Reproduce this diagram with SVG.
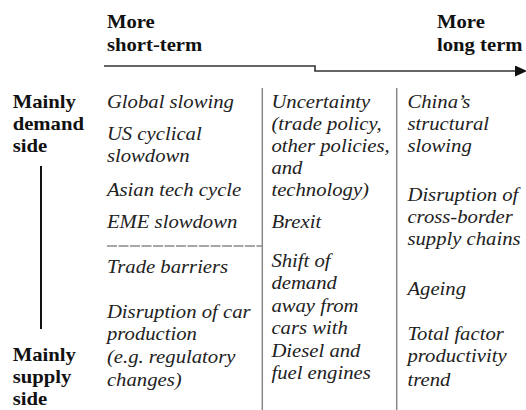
<svg xmlns="http://www.w3.org/2000/svg" width="526" height="410" viewBox="0 0 526 410">
  <style>
    .hdr { font-weight: bold; font-size: 18px; fill: #111; }
    .itm { font-style: italic; font-size: 18px; fill: #222; }
    .div { stroke: #8a8a8a; stroke-width: 1.5; fill: none; }
    .conn { stroke: #333; stroke-width: 1.6; fill: none; }
  </style>
  <defs>
    <marker id="arrow" markerUnits="userSpaceOnUse" markerWidth="12" markerHeight="11" viewBox="0 0 12 11" refX="0" refY="5.5" orient="auto">
      <path d="M0,0 L12,5.5 L0,11 Z" fill="#111"/>
    </marker>
  </defs>
  <rect width="526" height="410" fill="#fff"/>

  <g id="grid">
    <line class="div" x1="262.3" y1="88" x2="262.3" y2="410"/>
    <line class="div" x1="396.7" y1="88" x2="396.7" y2="410"/>
    <line class="div" x1="107" y1="246" x2="262" y2="246" stroke-dasharray="10 1.5"/>
  </g>

  <g id="connectors">
    <path class="conn" d="M104,66 H315 V71 H515" marker-end="url(#arrow)"/>
    <line x1="41" y1="166" x2="41" y2="329" stroke="#111" stroke-width="2"/>
  </g>

  <g transform="scale(1.15 1)" font-family="Liberation Serif, Tinos, Noto Serif, FreeSerif, DejaVu Serif, serif">
    <g id="header-short">
      <text class="hdr" x="93" y="28">More</text>
      <text class="hdr" x="93" y="51">short-term</text>
    </g>
    <g id="header-long">
      <text class="hdr" x="380" y="28">More</text>
      <text class="hdr" x="380" y="51">long term</text>
    </g>
    <g id="label-demand">
      <text class="hdr" x="11" y="108">Mainly</text>
      <text class="hdr" x="11" y="130">demand</text>
      <text class="hdr" x="11" y="152">side</text>
    </g>
    <g id="label-supply">
      <text class="hdr" x="11" y="361">Mainly</text>
      <text class="hdr" x="11" y="383">supply</text>
      <text class="hdr" x="11" y="405">side</text>
    </g>

    <g id="global-slowing"><text class="itm" x="93" y="108">Global slowing</text></g>
    <g id="us-cyclical">
      <text class="itm" x="93" y="140">US cyclical</text>
      <text class="itm" x="93" y="162">slowdown</text>
    </g>
    <g id="asian-tech"><text class="itm" x="93" y="196">Asian tech cycle</text></g>
    <g id="eme-slowdown"><text class="itm" x="93" y="228">EME slowdown</text></g>
    <g id="trade-barriers"><text class="itm" x="93" y="273">Trade barriers</text></g>
    <g id="car-production">
      <text class="itm" x="93" y="318">Disruption of car</text>
      <text class="itm" x="93" y="340">production</text>
      <text class="itm" x="93" y="363">(e.g. regulatory</text>
      <text class="itm" x="93" y="386">changes)</text>
    </g>

    <g id="uncertainty">
      <text class="itm" x="236" y="108">Uncertainty</text>
      <text class="itm" x="236" y="130">(trade policy,</text>
      <text class="itm" x="236" y="152">other policies,</text>
      <text class="itm" x="236" y="174">and</text>
      <text class="itm" x="236" y="196">technology)</text>
    </g>
    <g id="brexit"><text class="itm" x="236" y="228">Brexit</text></g>
    <g id="demand-shift">
      <text class="itm" x="236" y="267">Shift of</text>
      <text class="itm" x="236" y="289.5">demand</text>
      <text class="itm" x="236" y="312">away from</text>
      <text class="itm" x="236" y="334.5">cars with</text>
      <text class="itm" x="236" y="357">Diesel and</text>
      <text class="itm" x="236" y="379.5">fuel engines</text>
    </g>

    <g id="china">
      <text class="itm" x="354.3" y="108">China’s</text>
      <text class="itm" x="354.3" y="130">structural</text>
      <text class="itm" x="354.3" y="152">slowing</text>
    </g>
    <g id="supply-chains">
      <text class="itm" x="354.3" y="201">Disruption of</text>
      <text class="itm" x="354.3" y="223">cross-border</text>
      <text class="itm" x="354.3" y="245">supply chains</text>
    </g>
    <g id="ageing"><text class="itm" x="354.3" y="295">Ageing</text></g>
    <g id="tfp">
      <text class="itm" x="354.3" y="340">Total factor</text>
      <text class="itm" x="354.3" y="362">productivity</text>
      <text class="itm" x="354.3" y="386">trend</text>
    </g>
  </g>
</svg>
